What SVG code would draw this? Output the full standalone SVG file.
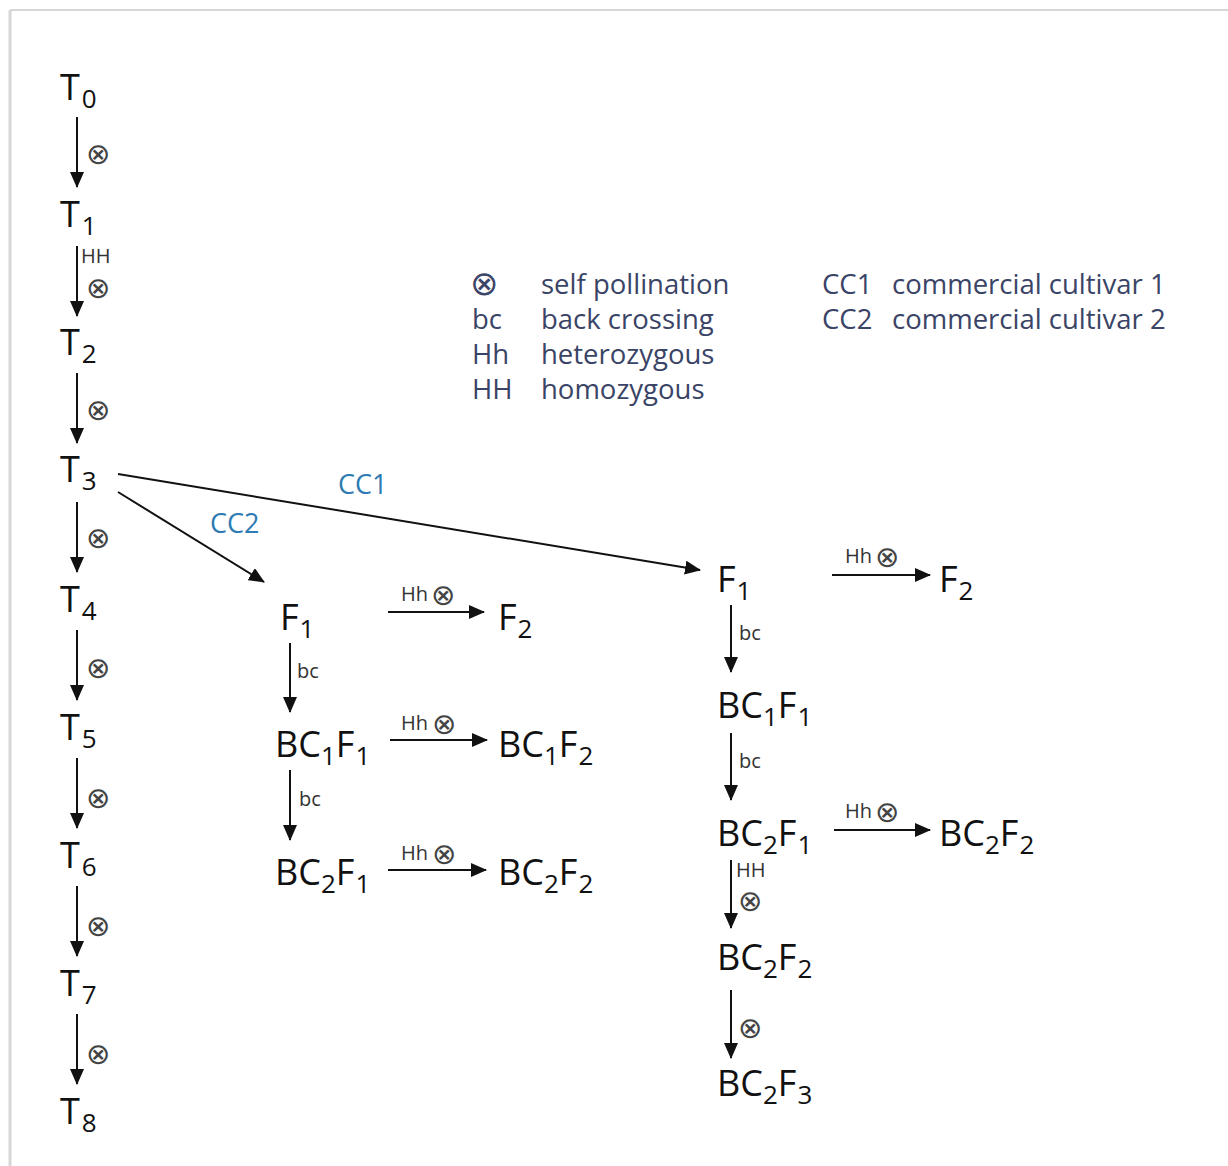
<svg xmlns="http://www.w3.org/2000/svg" width="1228" height="1166" viewBox="0 0 1228 1166">
<style>
.n{font-family:"Open Sans","Noto Sans",sans-serif;font-size:36px;fill:#111}
.s{font-size:26px}
.l{font-family:"Open Sans","Noto Sans",sans-serif;font-size:20px;fill:#333}
.x{font-family:"DejaVu Sans",sans-serif;font-size:29px;fill:#444}
.lx{font-family:"DejaVu Sans",sans-serif;font-size:34px;fill:#3d4668}
.lg{font-family:"Open Sans","Noto Sans",sans-serif;font-size:27.5px;fill:#3a4466}
.cc{font-family:"Open Sans","Noto Sans",sans-serif;font-size:27px;fill:#2e7bb4}
.c{stroke:#111;stroke-width:2;fill:none;marker-end:url(#a)}
</style>
<defs>
<marker id="a" markerUnits="userSpaceOnUse" markerWidth="16" markerHeight="14" refX="15" refY="7" orient="auto"><path d="M0,0 L16,7 L0,14 Z" fill="#111"/></marker>
</defs>
<rect width="1228" height="1166" fill="#fff"/>
<g id="frame" stroke="#d6d6d6" fill="none">
<line x1="10" y1="10" x2="1228" y2="10" stroke-width="2"/>
<line x1="10" y1="10" x2="10" y2="1166" stroke-width="3"/>
</g>
<g id="T0"><text class="n" x="60" y="100">T<tspan class="s" dy="8" dx="2">0</tspan></text></g>
<g id="T1"><text class="n" x="60" y="227">T<tspan class="s" dy="8" dx="2">1</tspan></text></g>
<g id="T2"><text class="n" x="60" y="355">T<tspan class="s" dy="8" dx="2">2</tspan></text></g>
<g id="T3"><text class="n" x="60" y="482">T<tspan class="s" dy="8" dx="2">3</tspan></text></g>
<g id="T4"><text class="n" x="60" y="612">T<tspan class="s" dy="8" dx="2">4</tspan></text></g>
<g id="T5"><text class="n" x="60" y="740">T<tspan class="s" dy="8" dx="2">5</tspan></text></g>
<g id="T6"><text class="n" x="60" y="868">T<tspan class="s" dy="8" dx="2">6</tspan></text></g>
<g id="T7"><text class="n" x="60" y="996">T<tspan class="s" dy="8" dx="2">7</tspan></text></g>
<g id="T8"><text class="n" x="60" y="1124">T<tspan class="s" dy="8" dx="2">8</tspan></text></g>

<g id="legend">
<text class="lx" x="470" y="295">⊗</text>
<text class="lg" x="472" y="329">bc</text>
<text class="lg" x="472" y="364">Hh</text>
<text class="lg" x="472" y="399">HH</text>
<text class="lg" x="541" y="294">self pollination</text>
<text class="lg" x="541" y="329">back crossing</text>
<text class="lg" x="541" y="364">heterozygous</text>
<text class="lg" x="541" y="399">homozygous</text>
<text class="lg" x="822" y="294">CC1</text>
<text class="lg" x="822" y="329">CC2</text>
<text class="lg" x="892" y="294">commercial cultivar 1</text>
<text class="lg" x="892" y="329">commercial cultivar 2</text>
</g>

<g id="m_F1"><text class="n" x="280" y="630">F<tspan class="s" dy="8" dx="1">1</tspan></text></g>
<g id="m_F2"><text class="n" x="498" y="630">F<tspan class="s" dy="8" dx="1">2</tspan></text></g>
<g id="m_BC1F1"><text class="n" x="275" y="757">BC<tspan class="s" dy="8">1</tspan><tspan dy="-8">F</tspan><tspan class="s" dy="8" dx="1">1</tspan></text></g>
<g id="m_BC1F2"><text class="n" x="498" y="757">BC<tspan class="s" dy="8">1</tspan><tspan dy="-8">F</tspan><tspan class="s" dy="8" dx="1">2</tspan></text></g>
<g id="m_BC2F1"><text class="n" x="275" y="885">BC<tspan class="s" dy="8">2</tspan><tspan dy="-8">F</tspan><tspan class="s" dy="8" dx="1">1</tspan></text></g>
<g id="m_BC2F2"><text class="n" x="498" y="885">BC<tspan class="s" dy="8">2</tspan><tspan dy="-8">F</tspan><tspan class="s" dy="8" dx="1">2</tspan></text></g>

<g id="r_F1"><text class="n" x="717" y="592">F<tspan class="s" dy="8" dx="1">1</tspan></text></g>
<g id="r_F2"><text class="n" x="939" y="592">F<tspan class="s" dy="8" dx="1">2</tspan></text></g>
<g id="r_BC1F1"><text class="n" x="717" y="718">BC<tspan class="s" dy="8">1</tspan><tspan dy="-8">F</tspan><tspan class="s" dy="8" dx="1">1</tspan></text></g>
<g id="r_BC2F1"><text class="n" x="717" y="846">BC<tspan class="s" dy="8">2</tspan><tspan dy="-8">F</tspan><tspan class="s" dy="8" dx="1">1</tspan></text></g>
<g id="r_BC2F2b"><text class="n" x="939" y="846">BC<tspan class="s" dy="8">2</tspan><tspan dy="-8">F</tspan><tspan class="s" dy="8" dx="1">2</tspan></text></g>
<g id="r_BC2F2"><text class="n" x="717" y="970">BC<tspan class="s" dy="8">2</tspan><tspan dy="-8">F</tspan><tspan class="s" dy="8" dx="1">2</tspan></text></g>
<g id="r_BC2F3"><text class="n" x="717" y="1096">BC<tspan class="s" dy="8">2</tspan><tspan dy="-8">F</tspan><tspan class="s" dy="8" dx="1">3</tspan></text></g>

<g id="connectors">
<line class="c" x1="77" y1="117" x2="77" y2="187"/>
<line class="c" x1="77" y1="246" x2="77" y2="316"/>
<line class="c" x1="77" y1="373" x2="77" y2="443"/>
<line class="c" x1="77" y1="502" x2="77" y2="572"/>
<line class="c" x1="77" y1="630" x2="77" y2="700"/>
<line class="c" x1="77" y1="758" x2="77" y2="828"/>
<line class="c" x1="77" y1="886" x2="77" y2="956"/>
<line class="c" x1="77" y1="1014" x2="77" y2="1084"/>
<line class="c" x1="118" y1="474" x2="700" y2="570"/>
<line class="c" x1="118" y1="492" x2="264" y2="582"/>
<line class="c" x1="388" y1="612" x2="484" y2="612"/>
<line class="c" x1="290" y1="643" x2="290" y2="712"/>
<line class="c" x1="390" y1="740" x2="487" y2="740"/>
<line class="c" x1="290" y1="770" x2="290" y2="840"/>
<line class="c" x1="388" y1="870" x2="486" y2="870"/>
<line class="c" x1="832" y1="575" x2="930" y2="575"/>
<line class="c" x1="731" y1="605" x2="731" y2="672"/>
<line class="c" x1="731" y1="733" x2="731" y2="800"/>
<line class="c" x1="834" y1="830" x2="930" y2="830"/>
<line class="c" x1="731" y1="860" x2="731" y2="928"/>
<line class="c" x1="731" y1="990" x2="731" y2="1058"/>
</g>

<g id="labels">
<text class="x" x="86" y="164">⊗</text>
<text class="l" x="81" y="263">HH</text>
<text class="x" x="86" y="298">⊗</text>
<text class="x" x="86" y="420">⊗</text>
<text class="x" x="86" y="548">⊗</text>
<text class="x" x="86" y="678">⊗</text>
<text class="x" x="86" y="808">⊗</text>
<text class="x" x="86" y="936">⊗</text>
<text class="x" x="86" y="1064">⊗</text>
<text class="cc" x="338" y="494">CC1</text>
<text class="cc" x="210" y="533">CC2</text>
<text class="l" x="401" y="601">Hh</text><text class="x" x="431" y="605">⊗</text>
<text class="l" x="297" y="678">bc</text>
<text class="l" x="401" y="730">Hh</text><text class="x" x="432" y="734">⊗</text>
<text class="l" x="299" y="806">bc</text>
<text class="l" x="401" y="860">Hh</text><text class="x" x="432" y="864">⊗</text>
<text class="l" x="845" y="563">Hh</text><text class="x" x="875" y="567">⊗</text>
<text class="l" x="739" y="640">bc</text>
<text class="l" x="739" y="768">bc</text>
<text class="l" x="845" y="818">Hh</text><text class="x" x="875" y="822">⊗</text>
<text class="l" x="736" y="877">HH</text>
<text class="x" x="738" y="911">⊗</text>
<text class="x" x="738" y="1038">⊗</text>
</g>
</svg>
